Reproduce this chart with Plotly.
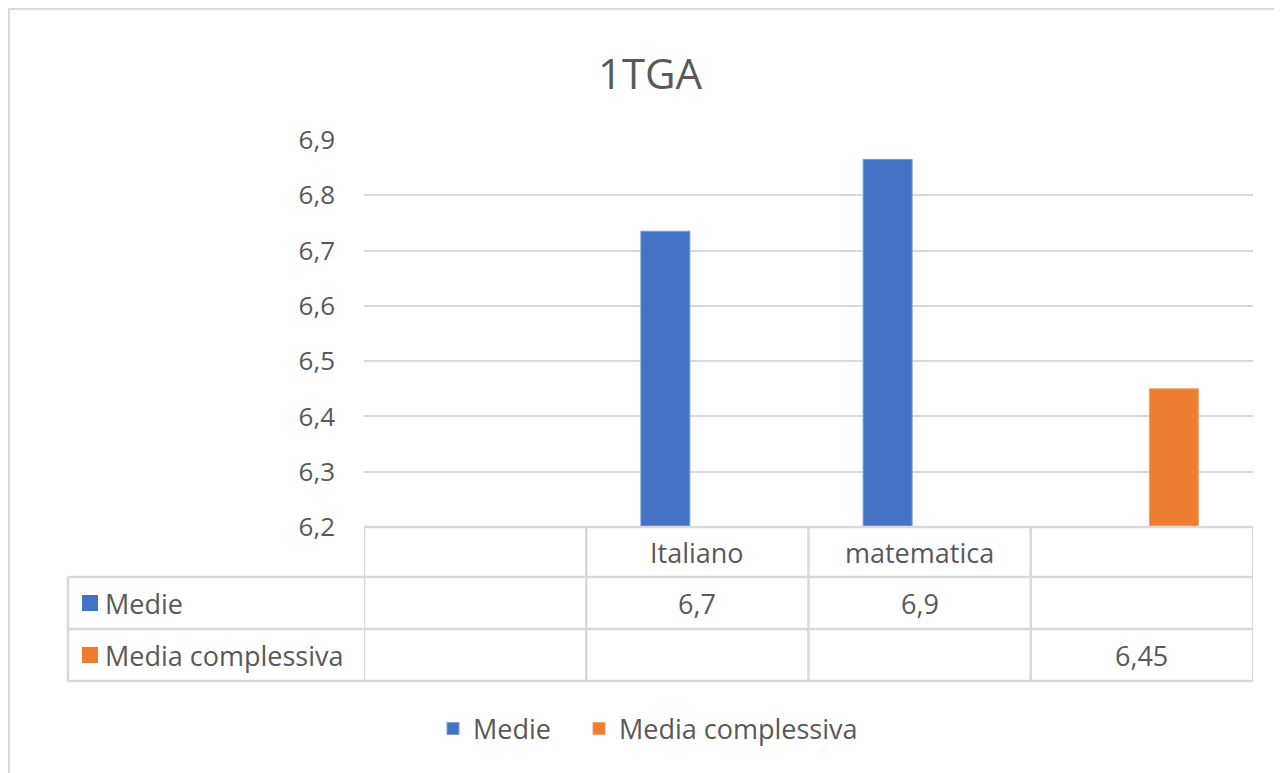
import plotly.graph_objects as go

# data
categories = ["", "Italiano", "matematica", ""]
medie = [None, 6.735, 6.865, None]
media_complessiva = [None, None, None, 6.45]
series_names = ["Medie", "Media complessiva"]
colors = ["#4472C4", "#ED7D31"]

# the page body adds an 8px margin, so work in screen pixels and shift back
OFF = 8
W, H = 1282 - OFF, 773 - OFF
L, R, T, B = 364, 1253, 140, 527   # plot area, screen pixels
FONT = "Open Sans"
GRAY = "#595959"
LINE = "#d9d9d9"
TXT = 27


def px(x):
    return (x - L) / (R - L)


def py(y):
    return (B - y) / (B - T)


xs = list(range(len(categories)))

fig = go.Figure()
fig.add_trace(go.Bar(x=xs, y=medie, name=series_names[0], marker_color=colors[0],
                     marker_line=dict(color="#7f9ed6", width=1), legend="legend",
                     showlegend=True))
fig.add_trace(go.Bar(x=xs, y=media_complessiva, name=series_names[1], marker_color=colors[1],
                     marker_line=dict(color="#f2a06a", width=1), legend="legend2",
                     showlegend=True))

shapes = []
annotations = []

# outer chart border (only top and left visible in the shot)
shapes.append(dict(type="rect", xref="paper", yref="paper", x0=px(OFF + 0.5), x1=px(1300),
                   y0=py(800), y1=py(OFF + 0.5), line=dict(color=LINE, width=3), layer="below"))

# data table lines
for yy in [577, 629, 681]:
    shapes.append(dict(type="line", xref="paper", yref="paper", x0=px(68), x1=px(R),
                       y0=py(yy), y1=py(yy), line=dict(color=LINE, width=2.5)))
shapes.append(dict(type="line", xref="paper", yref="paper", x0=px(68), x1=px(68),
                   y0=py(577), y1=py(681), line=dict(color=LINE, width=2.5)))
shapes.append(dict(type="line", xref="paper", yref="paper", x0=0, x1=1,
                   y0=0, y1=0, line=dict(color=LINE, width=2.5)))
for i in range(len(categories) + 1):
    shapes.append(dict(type="line", xref="x", yref="paper", x0=i - 0.5, x1=i - 0.5,
                       y0=py(B), y1=py(681), line=dict(color=LINE, width=2.5)))

# header row: category names
for i, c in enumerate(categories):
    if c:
        annotations.append(dict(x=i, y=py(552), xref="x", yref="paper", text=c, showarrow=False,
                                xanchor="center", yanchor="middle",
                                font=dict(family=FONT, size=TXT, color=GRAY)))

# series rows
rows = [(medie, "{:.1f}", 603), (media_complessiva, "{:.2f}", 655)]
for k, (vals, fmt, yy) in enumerate(rows):
    shapes.append(dict(type="rect", xref="paper", yref="paper", x0=px(82), x1=px(98),
                       y0=py(yy + 8), y1=py(yy - 8), fillcolor=colors[k], line=dict(width=0)))
    annotations.append(dict(x=px(103), y=py(yy), xref="paper", yref="paper", text=series_names[k],
                            showarrow=False, xanchor="left", yanchor="middle",
                            font=dict(family=FONT, size=TXT, color=GRAY)))
    for i, v in enumerate(vals):
        if v is not None:
            annotations.append(dict(x=i, y=py(yy), xref="x", yref="paper",
                                    text=fmt.format(v).replace(".", ","), showarrow=False,
                                    xanchor="center", yanchor="middle",
                                    font=dict(family=FONT, size=TXT, color=GRAY)))

legend_style = dict(orientation="h", xanchor="left", yanchor="middle", itemwidth=30,
                    font=dict(family=FONT, size=TXT, color=GRAY), bgcolor="rgba(0,0,0,0)")

fig.update_layout(
    width=W, height=H,
    margin=dict(l=L - OFF, r=1282 - R, t=T - OFF, b=773 - B, pad=0),
    paper_bgcolor="white", plot_bgcolor="white",
    separators=",.",
    showlegend=True,
    title=dict(text="1TGA", x=(650 - OFF) / W, xanchor="center", y=1 - (74 - OFF) / H,
               yanchor="middle", font=dict(family=FONT, size=42, color=GRAY)),
    barmode="group", bargap=0.424, bargroupgap=0.234,
    xaxis=dict(range=[-0.5, 3.5], showticklabels=False, showgrid=False, zeroline=False,
               showline=False, fixedrange=True),
    yaxis=dict(range=[6.2, 6.9], dtick=0.1, tickformat=".1f", showgrid=True, gridcolor=LINE,
               gridwidth=2, zeroline=False, showline=False, ticks="", ticklen=0,
               ticklabelstandoff=28,
               tickfont=dict(family=FONT, size=26, color=GRAY)),
    legend=dict(x=px(433), y=py(729), **legend_style),
    legend2=dict(x=px(579), y=py(729), **legend_style),
    shapes=shapes,
    annotations=annotations,
)

fig.write_html("out.html")
